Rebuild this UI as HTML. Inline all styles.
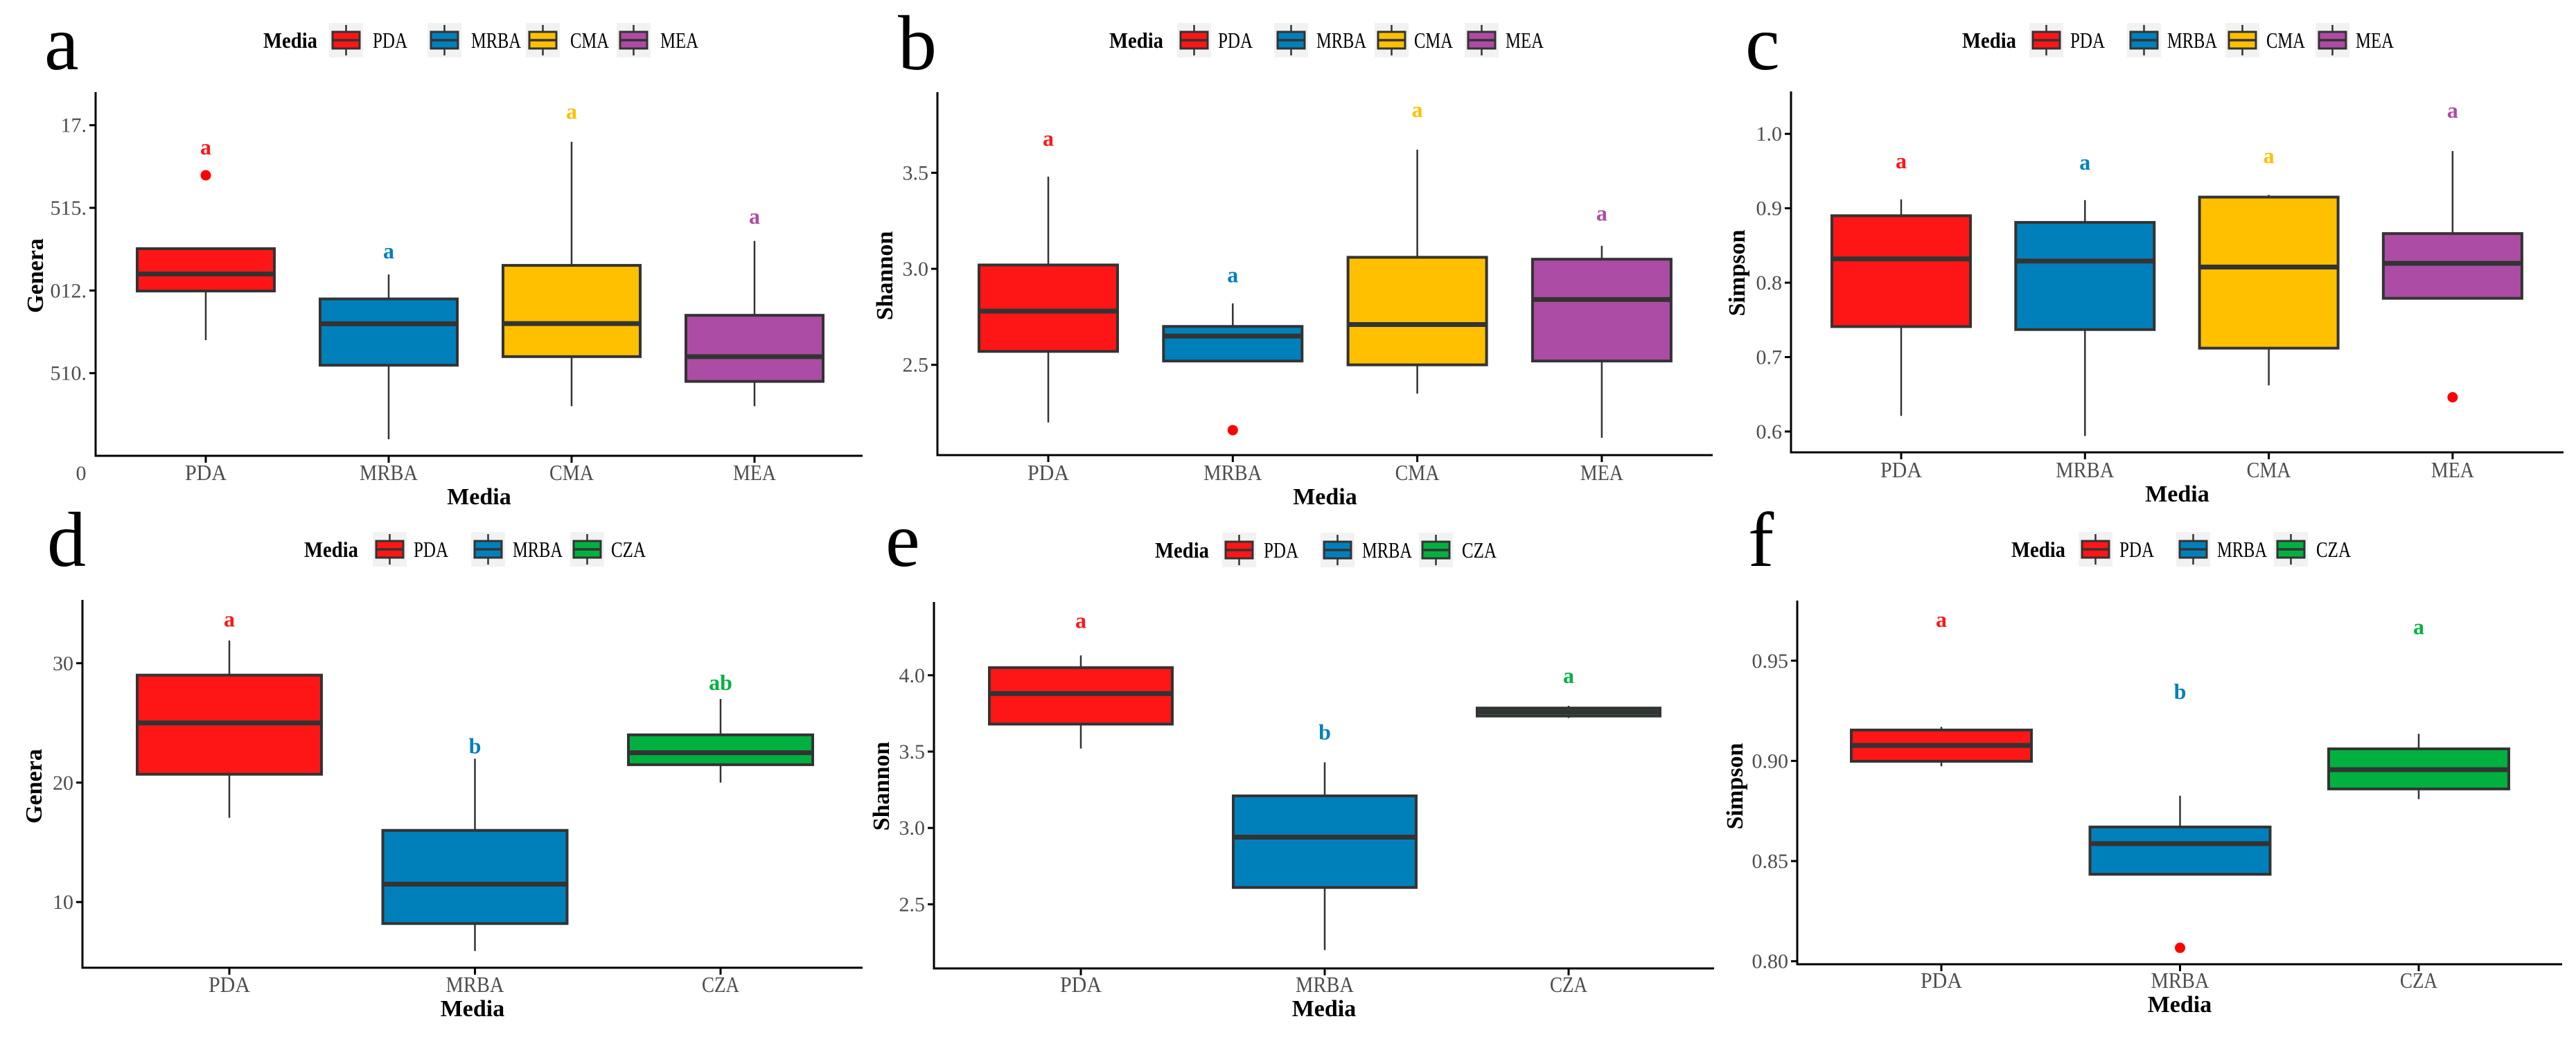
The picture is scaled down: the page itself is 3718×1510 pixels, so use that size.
<!DOCTYPE html>
<html><head><meta charset="utf-8"><style>
html,body{margin:0;padding:0;background:#fff;}
svg{display:block;font-family:"Liberation Serif",serif;}
</style></head><body>
<svg id="chart" width="3718" height="1510" viewBox="0 0 3718 1510" xmlns="http://www.w3.org/2000/svg"></svg>
<script>
// ---------- Panel a: Genera (4 media) ----------
const aCats = ["PDA","MRBA","CMA","MEA"];
const aQ1 = [14.97, 10.48, 11.0, 9.5];
const aMed = [16.0, 12.99, 13.0, 11.0];
const aQ3 = [17.53, 14.49, 16.52, 13.5];
const aLo = [12.0, 6.0, 8.0, 8.0];
const aHi = [17.53, 15.97, 24.0, 18.0];
const aOut = [[21.97], [], [], []];
const aSig = ["a","a","a","a"];
const aSigVal = [23.7, 17.4, 25.85, 19.5];
const aTicks = [10, 15, 20, 25];
const aTickLabels = ["510.", "012.", "515.", "17."];
// ---------- Panel b: Shannon (4 media) ----------
const bCats = ["PDA","MRBA","CMA","MEA"];
const bQ1 = [2.57, 2.52, 2.50, 2.52];
const bMed = [2.78, 2.65, 2.71, 2.84];
const bQ3 = [3.02, 2.70, 3.06, 3.05];
const bLo = [2.20, 2.52, 2.35, 2.12];
const bHi = [3.48, 2.82, 3.62, 3.12];
const bOut = [[], [2.16], [], []];
const bSig = ["a","a","a","a"];
const bSigVal = [3.68, 2.97, 3.83, 3.29];
const bTicks = [2.5, 3.0, 3.5];
const bTickLabels = ["2.5", "3.0", "3.5"];
// ---------- Panel c: Simpson (4 media) ----------
const cCats = ["PDA","MRBA","CMA","MEA"];
const cQ1 = [0.741, 0.737, 0.712, 0.779];
const cMed = [0.832, 0.829, 0.821, 0.826];
const cQ3 = [0.890, 0.881, 0.915, 0.866];
const cLo = [0.621, 0.594, 0.662, 0.779];
const cHi = [0.912, 0.911, 0.918, 0.977];
const cOut = [[], [], [], [0.646]];
const cSig = ["a","a","a","a"];
const cSigVal = [0.964, 0.962, 0.971, 1.032];
const cTicks = [0.6, 0.7, 0.8, 0.9, 1.0];
const cTickLabels = ["0.6", "0.7", "0.8", "0.9", "1.0"];
// ---------- Panel d: Genera (3 media) ----------
const dCats = ["PDA","MRBA","CZA"];
const dQ1 = [20.7, 8.2, 21.5];
const dMed = [25.0, 11.5, 22.5];
const dQ3 = [29.0, 16.0, 24.0];
const dLo = [17.05, 5.9, 20.0];
const dHi = [31.9, 22.0, 27.0];
const dOut = [[], [], []];
const dSig = ["a","b","ab"];
const dSigVal = [33.7, 23.1, 28.4];
const dTicks = [10, 20, 30];
const dTickLabels = ["10", "20", "30"];
// ---------- Panel e: Shannon (3 media) ----------
const eCats = ["PDA","MRBA","CZA"];
const eQ1 = [3.68, 2.61, 3.733];
const eMed = [3.88, 2.94, 3.76];
const eQ3 = [4.05, 3.21, 3.785];
const eLo = [3.52, 2.20, 3.72];
const eHi = [4.13, 3.43, 3.80];
const eOut = [[], [], []];
const eSig = ["a","b","a"];
const eSigVal = [4.36, 3.63, 4.0];
const eTicks = [2.5, 3.0, 3.5, 4.0];
const eTickLabels = ["2.5", "3.0", "3.5", "4.0"];
// ---------- Panel f: Simpson (3 media) ----------
const fCats = ["PDA","MRBA","CZA"];
const fQ1 = [0.8998, 0.8434, 0.886];
const fMed = [0.9077, 0.8587, 0.8956];
const fQ3 = [0.9154, 0.867, 0.906];
const fLo = [0.8973, 0.8434, 0.8809];
const fHi = [0.917, 0.8826, 0.9135];
const fOut = [[], [0.8067], []];
const fSig = ["a","b","a"];
const fSigVal = [0.9706, 0.9347, 0.967];
const fTicks = [0.80, 0.85, 0.90, 0.95];
const fTickLabels = ["0.80", "0.85", "0.90", "0.95"];

const COLORS = {PDA:"#fe1616", MRBA:"#0080bb", CMA:"#ffc000", MEA:"#ad4ca4", CZA:"#00b140"};
const LEGW = {PDA:50, MRBA:72, CMA:56, MEA:55, CZA:50};
const XLW = {PDA:60, MRBA:84, CMA:64, MEA:62, CZA:54};
const NS = "http://www.w3.org/2000/svg";
const svg = document.getElementById("chart");

function mk(tag, attrs, parent, text) {
  const el = document.createElementNS(NS, tag);
  for (const k in attrs) el.setAttribute(k, attrs[k]);
  if (text !== undefined) el.textContent = text;
  (parent || svg).appendChild(el);
  return el;
}

function drawPanel(L, D) {
  const g = mk("g", {});
  
  
  const y = v => L.bottom - (v - L.vmin) / (L.vmax - L.vmin) * (L.bottom - L.top);
  const x = i => L.x0 + i * L.step;

  const pl = mk("text", {x: L.letterX, y: L.letterY, "font-size": 112, fill: "#000"}, g, L.id);
  
  

  const lg = mk("g", {}, g);
  
  
  const lt = mk("text", {x: L.leg.media, y: L.leg.y + 11, "font-size": 32, "font-weight": "bold", fill: "#000",
    textLength: 78, lengthAdjust: "spacingAndGlyphs"}, lg, "Media");
  
  
  D.cats.forEach((c, i) => {
    const kx = L.leg.keys[i], cy = L.leg.y;
    const e = mk("g", {}, lg);
    
    
    mk("rect", {x: kx, y: cy - 25, width: 49, height: 50, fill: "#f2f2f2"}, e);
    mk("line", {x1: kx + 24.5, x2: kx + 24.5, y1: cy - 22, y2: cy + 22, stroke: "#333", "stroke-width": 2.5}, e);
    mk("rect", {x: kx + 5, y: cy - 12, width: 39, height: 24, fill: COLORS[c], stroke: "#333", "stroke-width": 3}, e);
    mk("line", {x1: kx + 5, x2: kx + 44, y1: cy, y2: cy, stroke: "#333", "stroke-width": 3.5}, e);
    mk("text", {x: L.leg.texts[i], y: cy + 11, "font-size": 32, fill: "#000",
      textLength: LEGW[c], lengthAdjust: "spacingAndGlyphs"}, e, c);
  });

  const ax = mk("line", {x1: L.left, x2: L.left, y1: L.top, y2: L.bottom + 1.5, stroke: "#000", "stroke-width": 3}, g);
  
  
  const bx = mk("line", {x1: L.left - 1.5, x2: L.right, y1: L.bottom, y2: L.bottom, stroke: "#000", "stroke-width": 3}, g);
  
  

  D.ticks.forEach((t, i) => {
    const ty = y(t);
    mk("line", {x1: L.left - 9, x2: L.left, y1: ty, y2: ty, stroke: "#000", "stroke-width": 3}, g);
    const tl = mk("text", {x: L.left - 13, y: ty + 10, "font-size": 30, fill: "#4d4d4d", "text-anchor": "end"}, g, D.tickLabels[i]);
    
    
  });

  const yt = mk("text", {x: 0, y: 0, "font-size": 34, "font-weight": "bold", fill: "#000", "text-anchor": "middle",
    transform: `translate(${L.ytX},${L.ytY}) rotate(-90)`}, g, L.ytitle);
  
  
  const xt = mk("text", {x: (L.left + L.right) / 2, y: L.xtY, "font-size": 34, "font-weight": "bold", fill: "#000", "text-anchor": "middle"}, g, "Media");
  
  
  if (L.zero) {
    const z = mk("text", {x: L.zero[0], y: L.zero[1], "font-size": 30, fill: "#4d4d4d", "text-anchor": "middle"}, g, "0");
    
    
  }

  D.cats.forEach((c, i) => {
    const cx = x(i);
    mk("line", {x1: cx, x2: cx, y1: L.bottom, y2: L.bottom + 10, stroke: "#000", "stroke-width": 3}, g);
    const xl = mk("text", {x: cx, y: L.xlY, "font-size": 32, fill: "#4d4d4d", "text-anchor": "middle",
      textLength: XLW[c], lengthAdjust: "spacingAndGlyphs"}, g, c);
    
    

    const bg = mk("g", {}, g);
    
    
    mk("line", {x1: cx, x2: cx, y1: y(D.hi[i]), y2: y(D.q3[i]), stroke: "#333", "stroke-width": 2.5}, bg);
    mk("line", {x1: cx, x2: cx, y1: y(D.q1[i]), y2: y(D.lo[i]), stroke: "#333", "stroke-width": 2.5}, bg);
    mk("rect", {x: cx - L.hw, y: y(D.q3[i]), width: 2 * L.hw, height: Math.max(1, y(D.q1[i]) - y(D.q3[i])),
      fill: COLORS[c], stroke: "#333", "stroke-width": 4}, bg);
    mk("line", {x1: cx - L.hw, x2: cx + L.hw, y1: y(D.med[i]), y2: y(D.med[i]), stroke: "#333", "stroke-width": 7}, bg);
    D.out[i].forEach(o => {
      const p = mk("circle", {cx: cx, cy: y(o), r: 7.5, fill: "#fe0000"}, bg);
      
      
    });
    const s = mk("text", {x: cx, y: y(D.sigVal[i]) + 11, "font-size": 32, "font-weight": "bold", fill: COLORS[c], "text-anchor": "middle"}, g, D.sig[i]);
    
    
  });
}

drawPanel({id:"a", left:138, right:1245, top:133, bottom:658, vmin:5.0, vmax:27.0, x0:297, step:264, hw:99,
  letterX:64, letterY:100, ytX:62, ytY:398, ytitle:"Genera", xtY:728, xlY:693, zero:[117,693],
  leg:{y:58, media:380, keys:[475,617,759,890], texts:[538,680,823,953]}},
  {cats:aCats,q1:aQ1,med:aMed,q3:aQ3,lo:aLo,hi:aHi,out:aOut,sig:aSig,sigVal:aSigVal,ticks:aTicks,tickLabels:aTickLabels});
drawPanel({id:"b", left:1353, right:2472, top:133, bottom:657, vmin:2.03, vmax:3.92, x0:1513, step:266.3, hw:100,
  letterX:1296, letterY:100, ytX:1288, ytY:398, ytitle:"Shannon", xtY:728, xlY:693,
  leg:{y:58, media:1601, keys:[1699,1839,1984,2114], texts:[1758,1900,2041,2173]}},
  {cats:bCats,q1:bQ1,med:bMed,q3:bQ3,lo:bLo,hi:bHi,out:bOut,sig:bSig,sigVal:bSigVal,ticks:bTicks,tickLabels:bTickLabels});
drawPanel({id:"c", left:2585, right:3700, top:132, bottom:653, vmin:0.572, vmax:1.057, x0:2744, step:265.3, hw:100,
  letterX:2519, letterY:100, ytX:2518, ytY:394, ytitle:"Simpson", xtY:724, xlY:689,
  leg:{y:58, media:2832, keys:[2929,3070,3212,3342], texts:[2988,3128,3271,3400]}},
  {cats:cCats,q1:cQ1,med:cMed,q3:cQ3,lo:cLo,hi:cHi,out:cOut,sig:cSig,sigVal:cSigVal,ticks:cTicks,tickLabels:cTickLabels});
drawPanel({id:"d", left:119, right:1245, top:866, bottom:1397, vmin:4.5, vmax:35.3, x0:331, step:354.5, hw:133,
  letterX:68, letterY:817, ytX:60, ytY:1135, ytitle:"Genera", xtY:1467, xlY:1432,
  leg:{y:793, media:439, keys:[538,680,823], texts:[597,740,882]}},
  {cats:dCats,q1:dQ1,med:dMed,q3:dQ3,lo:dLo,hi:dHi,out:dOut,sig:dSig,sigVal:dSigVal,ticks:dTicks,tickLabels:dTickLabels});
drawPanel({id:"e", left:1348, right:2474, top:869, bottom:1398, vmin:2.08, vmax:4.48, x0:1560, step:352, hw:132,
  letterX:1278, letterY:817, ytX:1283, ytY:1135, ytitle:"Shannon", xtY:1467, xlY:1432,
  leg:{y:794, media:1667, keys:[1764,1906,2048], texts:[1824,1966,2110]}},
  {cats:eCats,q1:eQ1,med:eMed,q3:eQ3,lo:eLo,hi:eHi,out:eOut,sig:eSig,sigVal:eSigVal,ticks:eTicks,tickLabels:eTickLabels});
drawPanel({id:"f", left:2594, right:3698, top:867, bottom:1392, vmin:0.7985, vmax:0.980, x0:2802, step:344.5, hw:130,
  letterX:2523, letterY:817, ytX:2515, ytY:1135, ytitle:"Simpson", xtY:1461, xlY:1426,
  leg:{y:793, media:2903, keys:[3000,3141,3282], texts:[3059,3200,3343]}},
  {cats:fCats,q1:fQ1,med:fMed,q3:fQ3,lo:fLo,hi:fHi,out:fOut,sig:fSig,sigVal:fSigVal,ticks:fTicks,tickLabels:fTickLabels});
</script>
</body></html>
